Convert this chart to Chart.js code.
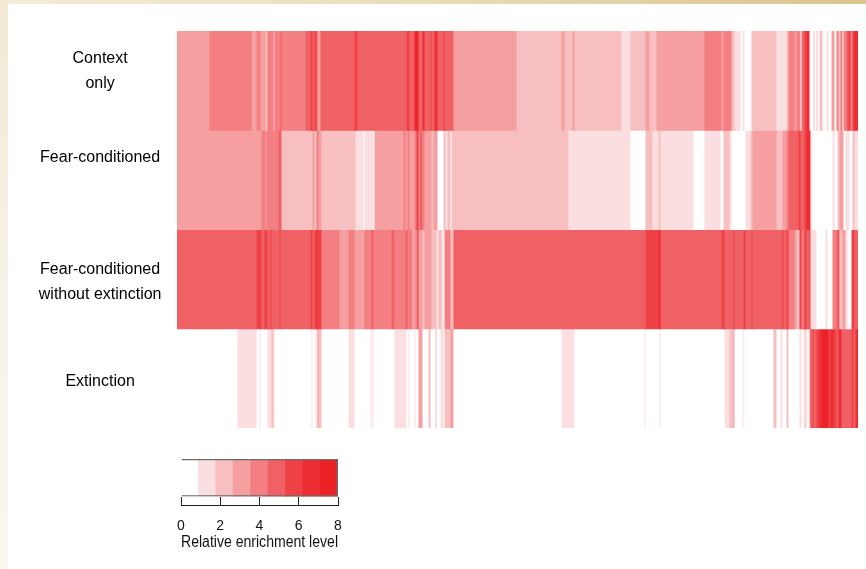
<!DOCTYPE html>
<html>
<head>
<meta charset="utf-8">
<script src="https://cdn.jsdelivr.net/npm/chart.js@4"></script>
<style>
  html, body { margin:0; padding:0; }
  body { width:866px; height:569px; position:relative; overflow:hidden; background:#ffffff; }
  #topBand { position:absolute; left:0; top:0; width:866px; height:4px;
    background:linear-gradient(to right, #F3ECDA, #E9DCB8 50%, #DAC48C); }
  #leftBand { position:absolute; left:0; top:0; width:8px; height:569px;
    background:linear-gradient(to bottom, #F2EAD5, #F7F3EA 60%, #F9F6F0); }
  #mainBox { position:absolute; left:0; top:0; width:866px; height:440px; }
  #keyBox { position:absolute; left:140px; top:445px; width:240px; height:120px; }
</style>
</head>
<body>
<div id="topBand"></div>
<div id="leftBand"></div>
<div id="mainBox"><canvas id="main"></canvas></div>
<div id="keyBox"><canvas id="key"></canvas></div>
<script>
// ---- data ----
const rowNames = ['Context only', 'Fear-conditioned', 'Fear-conditioned without extinction', 'Extinction'];
const rowLabelLines = [
  ["Context", "only", ""],
  ["Fear-conditioned", "", ""],
  ["Fear-conditioned", "without extinction"],
  ["Extinction"]
];
const totalColumns = 681;
// runs: [start column, enrichment level]; a run ends where the next begins
const contextOnly = [[0,3],[33,4],[75,3],[80,4],[84,3],[89,2],[91,4],[97,2],[98,4],[104,5],[105,4],[129,5],[134,6],[136,5],[138,6],[140,5],[141,3],[144,5],[178,6],[181,5],[230,6],[233,5],[238,8],[242,5],[246,7],[248,5],[254,6],[255,5],[258,7],[261,5],[267,6],[268,5],[277,3],[340,2],[385,3],[388,2],[396,3],[398,2],[445,1],[454,2],[469,3],[473,2],[480,3],[528,4],[545,3],[547,4],[555,2],[558,1],[564,0],[566,1],[568,0],[575,2],[600,1],[610,2],[612,4],[618,3],[620,4],[624,0],[625,5],[628,6],[630,7],[633,0],[637,2],[638,0],[640,2],[641,0],[643,2],[646,0],[650,1],[652,0],[655,3],[658,0],[660,4],[662,2],[664,4],[666,0],[667,4],[670,5],[672,6],[674,4],[676,6],[678,7]];
const fearConditioned = [[0,3],[85,4],[89,3],[90,4],[102,5],[105,2],[136,3],[138,2],[140,4],[142,3],[145,2],[179,1],[187,0],[188,1],[197,0],[198,3],[227,4],[229,3],[231,4],[233,3],[238,4],[240,6],[242,4],[244,6],[245,4],[248,3],[255,2],[257,3],[261,0],[267,2],[269,1],[271,2],[274,0],[275,2],[392,1],[454,0],[469,2],[476,1],[482,2],[484,1],[517,0],[528,1],[544,0],[547,2],[553,1],[555,0],[569,1],[574,2],[576,3],[600,2],[606,3],[610,4],[612,5],[622,6],[624,5],[628,6],[630,7],[634,0],[635,1],[636,0],[656,1],[658,0],[661,2],[663,3],[667,0],[669,1],[673,0],[676,2],[678,1]];
const fearNoExtinction = [[0,5],[80,6],[85,5],[88,6],[91,5],[94,6],[95,5],[103,6],[104,5],[134,6],[136,5],[138,6],[140,7],[141,6],[145,4],[163,3],[172,4],[178,3],[188,4],[195,5],[197,4],[215,5],[218,4],[229,5],[231,4],[234,5],[235,3],[239,4],[241,6],[242,3],[246,2],[248,3],[255,2],[260,1],[262,2],[265,1],[267,0],[268,4],[274,2],[277,5],[469,6],[482,7],[484,5],[545,6],[548,5],[557,6],[558,5],[567,6],[569,5],[575,6],[576,5],[606,6],[607,5],[610,6],[612,4],[618,3],[620,2],[623,6],[625,4],[627,5],[628,6],[630,5],[633,6],[634,1],[640,0],[649,1],[651,0],[656,4],[660,5],[663,2],[666,3],[669,1],[671,0],[675,6],[678,5]];
const extinction = [[0,0],[61,1],[80,0],[83,1],[84,0],[91,1],[95,2],[97,1],[98,0],[135,1],[136,0],[139,1],[141,3],[142,2],[145,0],[172,1],[178,0],[194,1],[195,0],[196,1],[197,0],[218,1],[230,0],[232,1],[233,0],[238,1],[239,0],[242,3],[246,0],[252,2],[254,0],[259,2],[260,0],[264,1],[267,0],[268,2],[274,3],[277,0],[385,1],[398,0],[468,1],[469,0],[483,1],[484,0],[548,1],[553,2],[557,3],[558,0],[566,1],[567,0],[597,2],[600,0],[604,1],[606,0],[610,2],[612,0],[623,1],[625,0],[627,1],[629,2],[630,0],[633,4],[634,5],[636,6],[637,5],[640,6],[643,7],[646,8],[652,6],[654,7],[657,6],[660,5],[662,7],[665,5],[675,6],[677,5],[679,7]];
const keyLevels = [0,1,2,3,4,5,6,7,8];
const keyTicks = [0,2,4,6,8];
const keyTitle = "Relative enrichment level";

// ---- styles ----
const palette = ['#FFFFFF','#FBDFE0','#F8BFC0','#F59FA1','#F37F82','#F06165','#EE4247','#EC2D33','#EC2227'];
const labelFont = "'Liberation Sans',Arial,Helvetica,sans-serif";
const regularFont = "'Liberation Sans',Arial,Helvetica,sans-serif";

function runsToBars(runs, rowName) {
  return runs.map((r, i) => ({
    x: [r[0], i + 1 < runs.length ? runs[i + 1][0] : totalColumns],
    y: rowName,
    v: r[1]
  }));
}
const rows = [contextOnly, fearConditioned, fearNoExtinction, extinction];

new Chart(document.getElementById('main'), {
  type: 'bar',
  data: {
    labels: rowNames,
    datasets: rows.map((runs, k) => ({
      label: rowNames[k],
      data: runsToBars(runs, rowNames[k]),
      backgroundColor: ctx => palette[ctx.raw ? ctx.raw.v : 0],
      borderWidth: 0,
      barPercentage: 1,
      categoryPercentage: 1,
      grouped: false,
      inflateAmount: 0.5
    }))
  },
  options: {
    indexAxis: 'y',
    responsive: true,
    maintainAspectRatio: false,
    animation: false,
    devicePixelRatio: 1,
    layout: { padding: { left: 20, top: 31, right: 8, bottom: 12 } },
    plugins: { legend: { display: false }, tooltip: { enabled: false } },
    scales: {
      x: { type: 'linear', min: 0, max: totalColumns, display: false },
      y: {
        type: 'category',
        grid: { display: false },
        border: { display: false },
        afterFit: s => { s.width = 157; s.paddingTop = 0; s.paddingBottom = 0; },
        ticks: {
          autoSkip: false,
          crossAlign: 'center',
          padding: 7.5,
          labelOffset: 3,
          color: '#000',
          callback: (val, i) => rowLabelLines[i],
          font: { family: labelFont, size: 16, lineHeight: 1.55 }
        }
      }
    }
  }
});

new Chart(document.getElementById('key'), {
  type: 'bar',
  data: {
    labels: ['key'],
    datasets: [{
      label: 'levels',
      data: keyLevels.map((lv, i) => ({ x: [i * 8 / keyLevels.length, (i + 1) * 8 / keyLevels.length], y: 'key', v: lv })),
      backgroundColor: ctx => palette[ctx.raw ? ctx.raw.v : 0],
      borderWidth: 0,
      barPercentage: 1,
      categoryPercentage: 1,
      inflateAmount: 0.5,
      order: 2
    }, {
      label: 'frame',
      data: [{ x: [0, 8], y: 'key' }],
      backgroundColor: 'rgba(0,0,0,0)',
      borderColor: '#6b6b6b',
      borderWidth: 1,
      barPercentage: 1,
      categoryPercentage: 1,
      order: 1
    }]
  },
  options: {
    indexAxis: 'y',
    responsive: true,
    maintainAspectRatio: false,
    animation: false,
    devicePixelRatio: 1,
    layout: { padding: { left: 41, right: 42, top: 14, bottom: 13 } },
    plugins: { legend: { display: false }, tooltip: { enabled: false } },
    datasets: { bar: { grouped: false } },
    scales: {
      y: { display: false },
      tickMarks: {
        type: 'linear', position: 'bottom', axis: 'x', weight: 0,
        min: 0, max: 8,
        afterBuildTicks: s => { s.ticks = keyTicks.map(v => ({ value: v })); },
        grid: { display: true, drawOnChartArea: false, drawTicks: true, tickLength: 9, color: '#222', tickColor: '#222', lineWidth: 1 },
        border: { display: false },
        ticks: { display: false }
      },
      x: {
        type: 'linear', position: 'bottom', weight: 1,
        min: 0, max: 8,
        afterBuildTicks: s => { s.ticks = keyTicks.map(v => ({ value: v })); },
        grid: { display: false, drawTicks: false },
        border: { display: true, color: '#222', width: 1 },
        ticks: { padding: 12, color: '#111', font: { family: regularFont, size: 14 }, maxRotation: 0 },
        title: { display: true, text: keyTitle, color: '#111', padding: { top: 0, bottom: 0 }, font: { family: regularFont, size: 16, lineHeight: 1.2 } }
      }
    }
  }
});
</script>
</body>
</html>
